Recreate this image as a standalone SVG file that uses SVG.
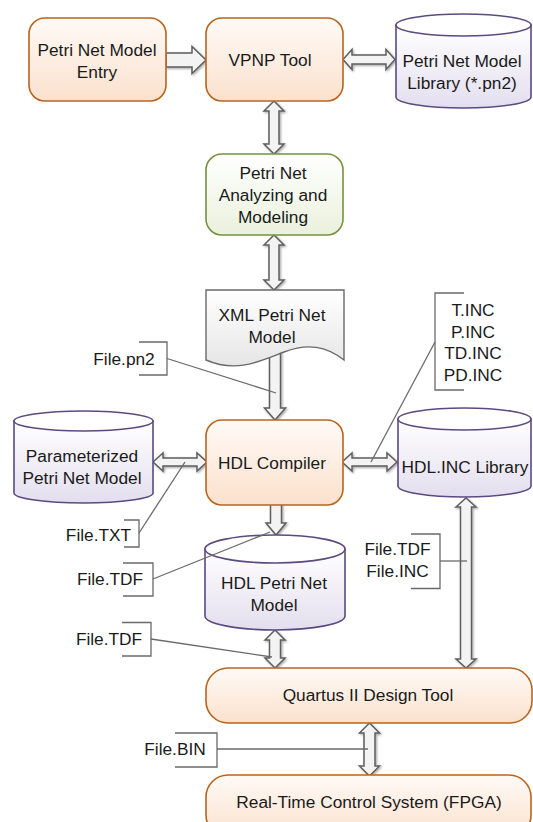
<svg xmlns="http://www.w3.org/2000/svg" width="533" height="822" viewBox="0 0 533 822">
<defs>
<linearGradient id="gOr" x1="0" y1="0" x2="0" y2="1"><stop offset="0" stop-color="#fffaf6"/><stop offset="1" stop-color="#fbe1cd"/></linearGradient>
<linearGradient id="gGr" x1="0" y1="0" x2="0" y2="1"><stop offset="0" stop-color="#ffffff"/><stop offset="1" stop-color="#eaf1dc"/></linearGradient>
<linearGradient id="gPu" x1="0" y1="0" x2="0" y2="1"><stop offset="0" stop-color="#ffffff"/><stop offset="1" stop-color="#e3deee"/></linearGradient>
<linearGradient id="gGy" x1="0" y1="0" x2="0" y2="1"><stop offset="0" stop-color="#ffffff"/><stop offset="1" stop-color="#e6e6e6"/></linearGradient>
<filter id="sh" x="-30%" y="-30%" width="160%" height="160%"><feDropShadow dx="1.2" dy="1.2" stdDeviation="0.8" flood-color="#000" flood-opacity="0.35"/></filter>
</defs>
<style>
text{font-family:"Liberation Sans",Arial,sans-serif;font-size:17.3px;fill:#1a1a1a;text-anchor:middle}
.or{fill:url(#gOr);stroke:#b8641e;stroke-width:1.6}
.gr{fill:url(#gGr);stroke:#76923c;stroke-width:1.6}
.pu{fill:url(#gPu);stroke:#5b4a82;stroke-width:1.6}
.pt{fill:#ffffff;stroke:#5b4a82;stroke-width:1.6}
.doc{fill:url(#gGy);stroke:#6a6a6a;stroke-width:1.4}
.ar{fill:#f3f3f3;stroke:#5e5e5e;stroke-width:1.5;stroke-linejoin:miter;filter:url(#sh)}
.ln{fill:none;stroke:#6a6a6a;stroke-width:1.3}
.br{fill:none;stroke:#6a6a6a;stroke-width:1.3}
.lt{text-anchor:start}
</style>

<g id="connectors">
<polygon class="ar" points="166,53 192,53 192,46.5 206,60 192,73.5 192,67 166,67"/>
<polygon class="ar" points="343,59.5 352,49.5 352,55 386,55 386,49.5 395,59.5 386,69.5 386,64 352,64 352,69.5"/>
<polygon class="ar" points="274,101 284,111 279,111 279,144 284,144 274,154 264,144 269,144 269,111 264,111"/>
<polygon class="ar" points="274,235 284,245 279,245 279,280 284,280 274,290 264,280 269,280 269,245 264,245"/>
<polygon class="ar" points="269.5,350 280.5,350 280.5,408 285.5,408 275,420 264.5,408 269.5,408"/>
<polygon class="ar" points="153,462 163,453 163,458 197,458 197,453 207,462 197,471 197,466 163,466 163,471"/>
<polygon class="ar" points="342,462 352,453 352,458 387,458 387,453 397,462 387,471 387,466 352,466 352,471"/>
<polygon class="ar" points="270.5,504 281.5,504 281.5,523 286,523 276,535 266,523 270.5,523"/>
<polygon class="ar" points="275,630 285,640 280.5,640 280.5,658 285,658 275,668 265,658 269.5,658 269.5,640 265,640"/>
<polygon class="ar" points="466,498 476,507 471.5,507 471.5,659 476,659 466,668 456,659 460.5,659 460.5,507 456,507"/>
<polygon class="ar" points="369.5,723 379.5,733 375,733 375,766 379.5,766 369.5,776 359.5,766 364,766 364,733 359.5,733"/>
</g>

<g id="entry">
<rect class="or" x="29" y="18" width="137" height="83" rx="16"/>
<text x="97" y="56">Petri Net Model</text>
<text x="97" y="77.5">Entry</text>
</g>

<g id="vpnp">
<rect class="or" x="206" y="18" width="137" height="83" rx="16"/>
<text x="270" y="65.5">VPNP Tool</text>
</g>

<g id="library">
<path class="pu" d="M396,25 V97 A67.5,11 0 0 0 531,97 V25 Z"/>
<ellipse class="pt" cx="463.5" cy="25" rx="67.5" ry="11"/>
<text x="462" y="67">Petri Net Model</text>
<text x="462" y="89">Library (*.pn2)</text>
</g>

<g id="analyzing">
<rect class="gr" x="206" y="154" width="137" height="81" rx="16"/>
<text x="273" y="179">Petri Net</text>
<text x="273" y="201">Analyzing and</text>
<text x="273" y="223">Modeling</text>
</g>

<g id="xml">
<path class="doc" d="M206,290 H344 V360 C326,346 308,343 284,352 C258,362 236,373 206,360 Z"/>
<text x="272" y="321">XML Petri Net</text>
<text x="272" y="343">Model</text>
</g>

<g id="param">
<path class="pu" d="M14,421 V493 A69.5,10 0 0 0 153,493 V421 Z"/>
<ellipse class="pt" cx="83.5" cy="421" rx="69.5" ry="10"/>
<text x="82" y="462">Parameterized</text>
<text x="82" y="484">Petri Net Model</text>
</g>

<g id="compiler">
<rect class="or" x="206" y="420" width="137" height="85" rx="16"/>
<text x="272" y="469">HDL Compiler</text>
</g>

<g id="hdlinc">
<path class="pu" d="M398,419 V486 A66.5,11 0 0 0 531,486 V419 Z"/>
<ellipse class="pt" cx="464.5" cy="419" rx="66.5" ry="11"/>
<text x="465" y="473">HDL.INC Library</text>
</g>

<g id="hdlpetri">
<path class="pu" d="M205,549 V616 A70,14 0 0 0 345,616 V549 Z"/>
<ellipse class="pt" cx="275" cy="549" rx="70" ry="14"/>
<text x="274" y="589">HDL Petri Net</text>
<text x="274" y="611">Model</text>
</g>

<g id="quartus">
<rect class="or" x="206" y="668" width="326" height="55" rx="22"/>
<text x="368" y="701">Quartus II Design Tool</text>
</g>

<g id="rtcs">
<rect class="or" x="206" y="775" width="325" height="62" rx="22"/>
<text x="369" y="808">Real-Time Control System (FPGA)</text>
</g>

<g id="labels">
<g id="lbl-pn2">
<path class="br" d="M139,342 H167 V375 H139"/>
<text x="124" y="365">File.pn2</text>
<path class="ln" d="M167,358.5 L276,393"/>
</g>
<g id="lbl-inc">
<path class="br" d="M464,293 H435 V390 H464"/>
<text x="473" y="316">T.INC</text>
<text x="473" y="337.5">P.INC</text>
<text x="473" y="359">TD.INC</text>
<text x="473" y="380.5">PD.INC</text>
<path class="ln" d="M435,342 L371,462"/>
</g>
<g id="lbl-txt">
<path class="br" d="M124,520 H139 V547 H124"/>
<text x="98.5" y="541">File.TXT</text>
<path class="ln" d="M139,533 L185,462"/>
</g>
<g id="lbl-tdf1">
<path class="br" d="M123,563 H153 V596 H123"/>
<text x="110" y="585">File.TDF</text>
<path class="ln" d="M153,579 L270,532"/>
</g>
<g id="lbl-tdf2">
<path class="br" d="M122,622.5 H151 V656 H122"/>
<text x="109" y="645">File.TDF</text>
<path class="ln" d="M151,639 L272,657"/>
</g>
<g id="lbl-tdfinc">
<path class="br" d="M411,534 H440 V588.5 H411"/>
<text x="397.5" y="555">File.TDF</text>
<text x="397.5" y="577">File.INC</text>
<path class="ln" d="M440,561 H467"/>
</g>
<g id="lbl-bin">
<path class="br" d="M175,733 H217 V767 H175"/>
<text x="175" y="755">File.BIN</text>
<path class="ln" d="M217,749 H368"/>
</g>
</g>
</svg>
